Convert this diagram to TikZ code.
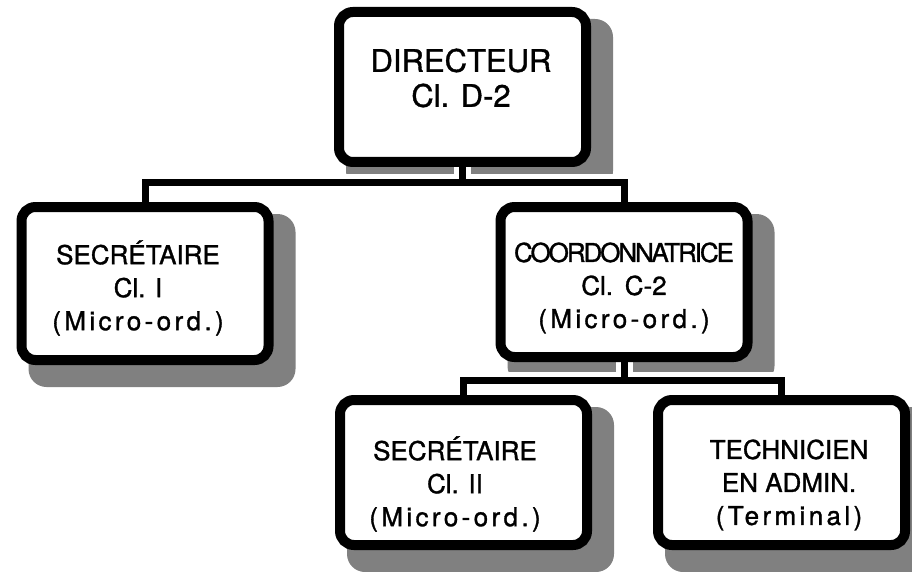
\documentclass[tikz,border=0pt]{standalone}
\usepackage{fontspec}
\setmainfont[FakeBold=1.2]{TeX Gyre Heros}
\newfontfamily\spaced[LetterSpace=13,FakeBold=1.2]{TeX Gyre Heros}
\newfontfamily\tight[LetterSpace=-8,FakeBold=1.2]{TeX Gyre Heros}
\usetikzlibrary{calc,backgrounds}
\definecolor{shadowc}{gray}{0.5}
\tikzset{
  orgbox/.style={draw=black, line width=10pt, rounded corners=14pt, fill=white,
    inner sep=0pt, minimum width=247pt},
  txt/.style={align=center, inner sep=0pt, font=\fontsize{26pt}{33pt}\selectfont},
  bigtxt/.style={align=center, inner sep=0pt, font=\fontsize{31pt}{35pt}\selectfont},
  conn/.style={line width=7pt, black},
  halo/.style={line width=17pt, white},
  shadowfill/.style={fill=shadowc, rounded corners=18pt}
}
\begin{document}
\begin{tikzpicture}[x=1pt, y=-1pt]
\useasboundingbox (0,0) rectangle (912,572);
% boxes
\node[orgbox, minimum height=150pt] (dir) at (462.5,87) {};
\node[orgbox, minimum height=153pt] (sec1) at (145,283.5) {};
\node[orgbox, minimum height=150pt] (coord) at (624,282) {};
\node[orgbox, minimum height=145pt] (sec2) at (463.5,472.5) {};
\node[orgbox, minimum height=145pt] (tech) at (781.5,472.5) {};
% texts
\node[bigtxt] (dirT) at (461,78) {DIRECTEUR\\Cl. D-2};
\node[txt] (sec1T) at (138,288) {SECRÉTAIRE\\Cl. I\\{\spaced (Micro-ord.)}};
\node[txt] (coordT) at (624,288) {{\tight COORDONNATRICE}\\Cl.\hspace{0.45em}C-2\\{\spaced (Micro-ord.)}};
\node[txt] (sec2T) at (455,484) {SECRÉTAIRE\\Cl. II\\{\spaced (Micro-ord.)}};
\node[txt] (techT) at (789,485) {TECHNICIEN\\EN ADMIN.\\{\spaced (Terminal)}};
% coordinates for bars
\coordinate (bar1) at (0,183);
\coordinate (bar2) at (0,380);
\begin{scope}[on background layer]
  \foreach \n in {dir,sec1,coord,sec2,tech}{
    \fill[shadowfill] ($(\n.north west)+(12,12)$) rectangle ($(\n.south east)+(22,22)$);
  }
  \draw[halo] (dir.south) -- (dir.south |- bar1);
  \draw[halo] (sec1.north) -- (sec1.north |- bar1) -- (coord.north |- bar1) -- (coord.north);
  \draw[halo] (coord.south) -- (coord.south |- bar2);
  \draw[halo] (sec2.north) -- (sec2.north |- bar2) -- (tech.north |- bar2) -- (tech.north);
  \draw[conn] (dir.south) -- (dir.south |- bar1);
  \draw[conn] (sec1.north) -- (sec1.north |- bar1) -- (coord.north |- bar1) -- (coord.north);
  \draw[conn] (coord.south) -- (coord.south |- bar2);
  \draw[conn] (sec2.north) -- (sec2.north |- bar2) -- (tech.north |- bar2) -- (tech.north);
\end{scope}
\end{tikzpicture}
\end{document}
